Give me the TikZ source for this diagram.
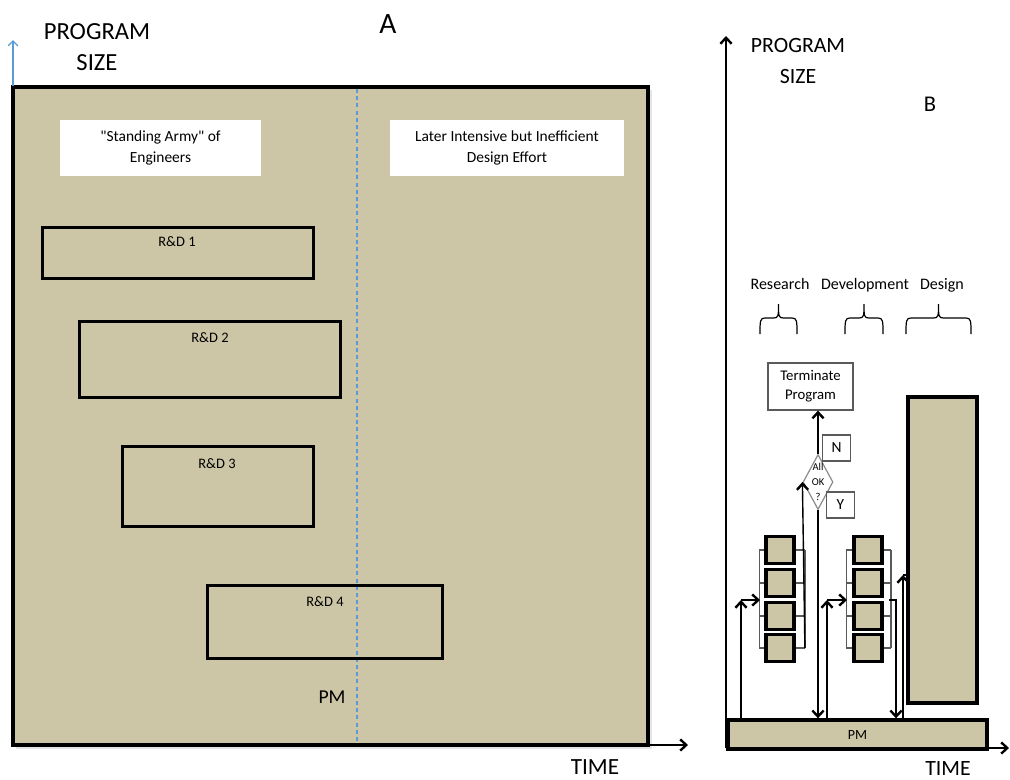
\documentclass[tikz,border=0pt]{standalone}
\usepackage{fontspec}
\setmainfont{Carlito}[Ligatures=TeXOff]
\usetikzlibrary{arrows.meta,shapes.geometric,positioning}
\definecolor{tan}{RGB}{204,198,166}
\definecolor{axisblue}{RGB}{91,155,213}
\definecolor{thingray}{RGB}{90,90,90}
\tikzset{
  tanbox/.style={draw=black, line width=0.85mm, fill=tan, inner sep=0pt},
  rdbox/.style={draw=black, line width=0.75mm},
  rdlabel/.style={font=\fontsize{10.3}{12}\selectfont},
  notebox/.style={fill=white, minimum height=14mm, align=center, font=\fontsize{11}{15.5}\selectfont},
  axislabel/.style={align=center, font=\fontsize{17.5}{22}\selectfont},
  phase/.style={anchor=base, font=\fontsize{11.4}{13}\selectfont},
  sq/.style={tanbox, line width=0.95mm, minimum width=7mm, minimum height=6.75mm},
  smallbox/.style={draw=thingray, line width=0.3mm, minimum width=7mm, minimum height=6.5mm, font=\fontsize{11}{13}\selectfont},
  bracket/.style={draw=thingray, line width=0.3mm},
  flow/.style={draw=black, line width=0.45mm},
  barb/.style={-{Straight Barb[length=1.5mm,width=2.8mm,line width=0.6mm]}}
}
\begin{document}
\begin{tikzpicture}[x=0.25mm, y=-0.25mm]
  \useasboundingbox (0,0) rectangle (1010,779);

  % A: the big box, axes and divider
  \fill[black!10] (16,748.5) rectangle (651.5,90);
  \draw[tanbox, line width=0.8mm] (13,87) rectangle (648,745);
  \draw[axisblue, line width=0.35mm, -{Straight Barb[length=1.2mm,width=2.4mm]}] (13,86) -- (13,40);
  \draw[line width=0.35mm, barb] (648,745) -- (688,745);
  \draw[axisblue, line width=0.3mm, dash pattern=on 1mm off 0.8mm] (357,89) -- (357,743);

  \node[axislabel] (sizeA) at (97,47) {PROGRAM\\SIZE};
  \node[font=\fontsize{21}{24}\selectfont] (titleA) at (388,24) {A};
  \node[inner sep=1pt, font=\fontsize{16.5}{19}\selectfont] (timeA) at (595,767) {TIME};

  \node[notebox, minimum width=50.25mm] (army) at (160.5,148) {"Standing Army" of\\Engineers};
  \node[notebox, minimum width=58.5mm] (later) at (507,148) {Later Intensive but Inefficient\\Design Effort};

  % R&D efforts
  \draw[rdbox] (42,227) rectangle (313,278);
  \node[rdlabel] (rd1) at (177,242) {R\&D 1};
  \draw[rdbox] (79,321) rectangle (340,397);
  \node[rdlabel] (rd2) at (210,338) {R\&D 2};
  \draw[rdbox] (122,446) rectangle (313,526);
  \node[rdlabel] (rd3) at (217,464) {R\&D 3};
  \draw[rdbox] (207,585) rectangle (442,658);
  \node[rdlabel] (rd4) at (325,602) {R\&D 4};
  \node[font=\fontsize{14}{16}\selectfont] (pmA) at (332,697) {PM};

  % B: axes
  \draw[line width=0.35mm, barb] (726,748) -- (726,36);
  \draw[line width=0.35mm, barb] (726,748) -- (1009,748);
  \node[axislabel, font=\fontsize{15.5}{22}\selectfont] (sizeB) at (798,61) {PROGRAM\\SIZE};
  \node[font=\fontsize{16}{19}\selectfont] (titleB) at (930,104) {B};
  \node[inner sep=1pt, font=\fontsize{15.5}{19}\selectfont] (timeB) at (948,768) {TIME};

  % phases and braces
  \node[phase] (res) at (780,289) {Research};
  \node[phase] (dev) at (865,289) {Development};
  \node[phase] (des) at (942,289) {Design};
  \foreach \xl/\xr in {760/797, 845/883, 906/971} {
    \pgfmathsetmacro{\xm}{(\xl+\xr)/2}
    \draw[line width=0.3mm] (\xl,334) .. controls (\xl,321) and (\xl,318) .. (\xl+5,318)
      -- (\xm-5,318) .. controls (\xm,318) and (\xm,316) .. (\xm,304)
      .. controls (\xm,316) and (\xm,318) .. (\xm+5,318)
      -- (\xr-5,318) .. controls (\xr,318) and (\xr,321) .. (\xr,334);
  }

  % PM bar and design block
  \node[tanbox, minimum width=64.75mm, minimum height=7.25mm, font=\fontsize{10}{12}\selectfont] (pmB) at (857.5,734.5) {PM};
  \node[tanbox, minimum width=17.25mm, minimum height=76.5mm] (dsgn) at (942.5,550) {};

  % research and development units
  \foreach \i/\y in {1/550, 2/583, 3/616, 4/648} {
    \node[sq] (r\i) at (780,\y) {};
    \node[sq] (d\i) at (868,\y) {};
    \draw[bracket] (r\i.west) -- +(-5,0);
    \draw[bracket] (r\i.east) -- +(9,0);
    \draw[bracket] (d\i.west) -- +(-6,0);
    \draw[bracket] (d\i.east) -- +(7,0);
  }
  \draw[bracket] ([xshift=-1.25mm]r1.west) -- ([xshift=-1.25mm]r4.west);
  \draw[bracket] ([xshift=-1.5mm]d1.west) -- ([xshift=-1.5mm]d4.west);
  \draw[bracket] ([xshift=1.75mm]d1.east) -- ([xshift=1.75mm]d4.east);

  % decision
  \node[draw=thingray, line width=0.3mm, minimum width=21.25mm, minimum height=11.75mm,
        align=center, font=\fontsize{10.5}{13.5}\selectfont] (term) at (810.5,386.5) {Terminate\\Program};
  \node[diamond, draw=thingray!70, line width=0.3mm, fill=white, inner sep=0pt,
        minimum width=7.5mm, minimum height=13.75mm] (ok) at (818,482) {};
  \node[align=center, inner sep=0pt, font=\fontsize{7.5}{10.5}\selectfont] (oktext) at (ok) {All\\OK\\?};
  \node[smallbox] (nbox) at (836.5,448) {N};
  \node[smallbox] (ybox) at (840.5,505) {Y};

  % flows
  \coordinate (rin) at (741,600);
  \coordinate (din) at (827,600);
  \coordinate (dout) at (896,600);
  \coordinate (gin) at (903,575);
  \draw[flow, barb] (rin |- pmB.north) -- (rin);
  \draw[flow, barb] (rin) -- (760,600);
  \draw[bracket] ([xshift=2.25mm]r4.east) -- ([xshift=2.25mm]r1.east);
  \draw[flow, line width=0.35mm, barb] ([xshift=2.25mm]r4.east) -- (ok.west);
  \draw[flow, barb] (ok.north) -- (ok.north |- term.south);
  \draw[flow, barb] (ok.south) -- (ok.south |- pmB.north);
  \draw[flow, barb] (din |- pmB.north) -- (din);
  \draw[flow, barb] (din) -- (847,600);
  \draw[flow, barb] (889,600) -| (dout |- pmB.north);
  \draw[flow, barb] (gin |- pmB.north) -- (gin);
  \draw[flow] (gin) -- (gin -| dsgn.west);
\end{tikzpicture}
\end{document}
